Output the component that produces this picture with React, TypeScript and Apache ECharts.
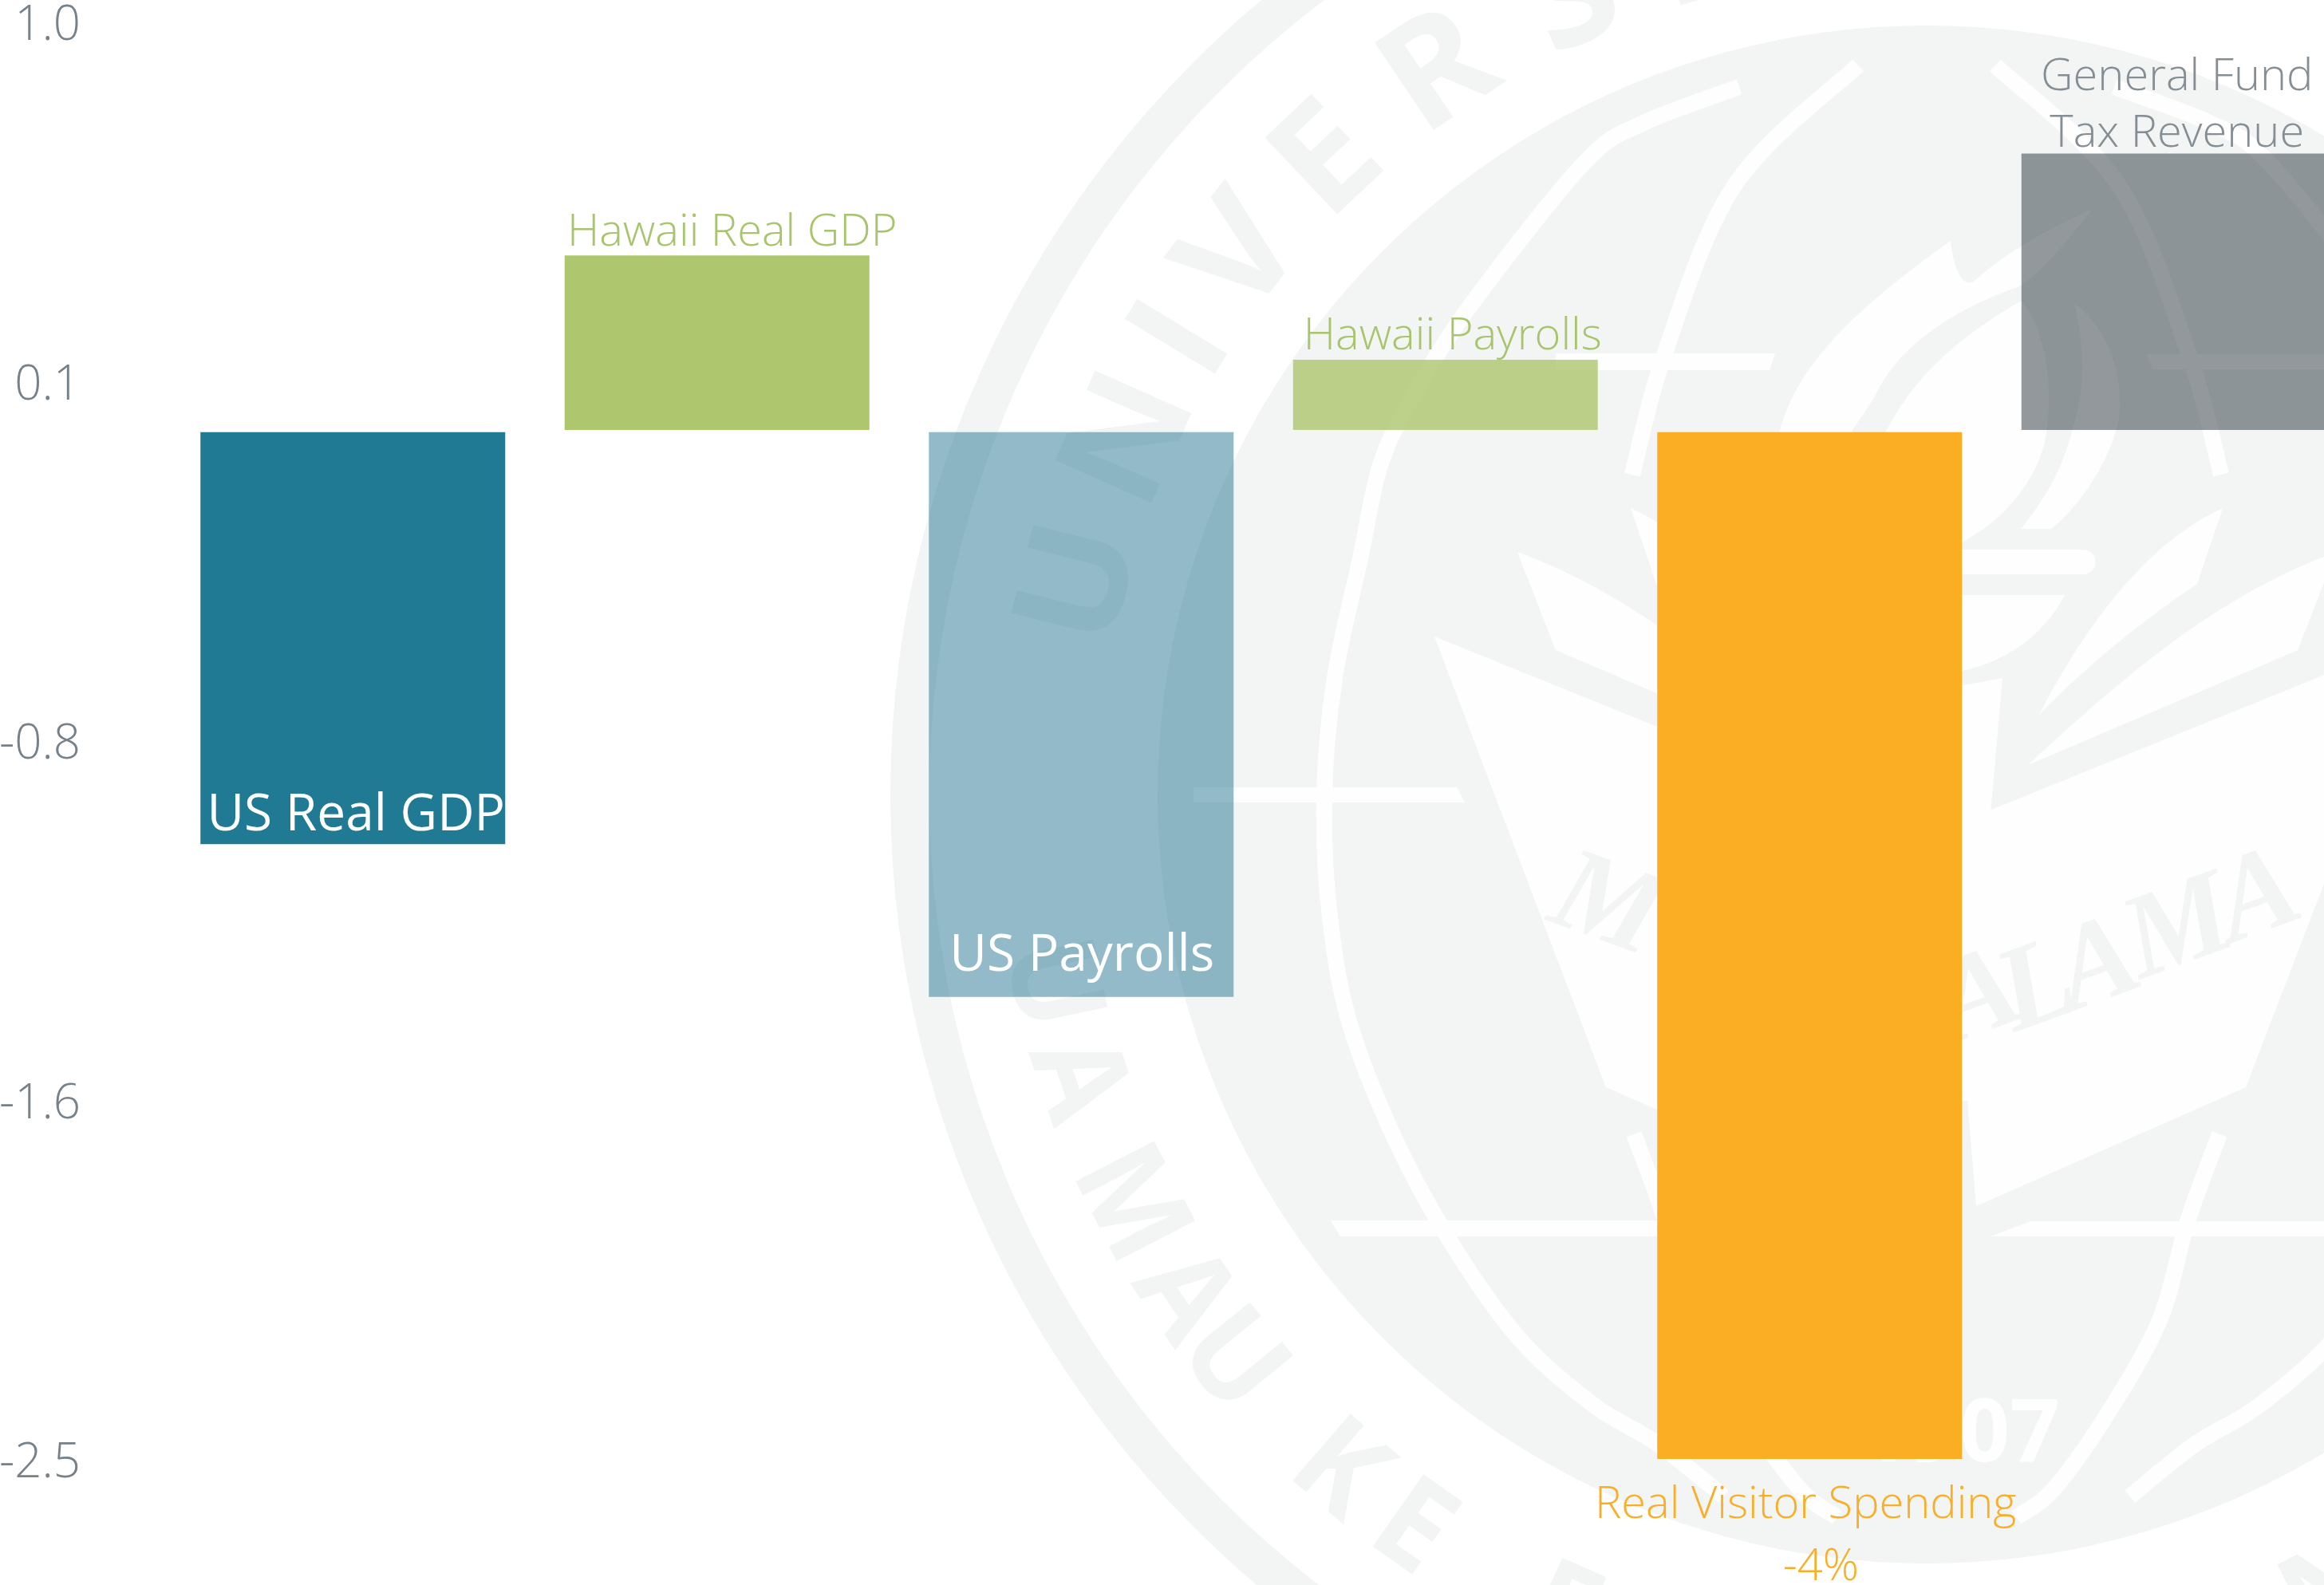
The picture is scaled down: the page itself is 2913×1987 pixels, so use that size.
import React, { useEffect, useRef } from "react";
import * as echarts from "echarts";

// ---- data ----
const categories = ["US Real GDP", "Hawaii Real GDP", "US Payrolls", "Hawaii Payrolls", "Real Visitor Spending", "General Fund Tax Revenue"];
const values = [-1.003, 0.425, -1.375, 0.171, -4, 0.673];
const tickValues = [-2.5, -1.625, -0.75, 0.125, 1];
const tickLabels = ["-2.5", "-1.6", "-0.8", "0.1", "1.0"];
const visitorNote = "-4%";

// ---- styles ----
const barStyles = [
  { color: "#217A94" },
  { color: "#AEC66E" },
  { color: "rgba(38,118,145,0.5)" },
  { color: "rgba(174,198,110,0.8)" },
  { color: "#FBAE23" },
  { color: "rgba(73,83,90,0.6)" },
];
const FONT = "'Open Sans'";
const labelStyles: any[] = [
  { position: "insideBottom", distance: 0, offset: [4, -4], color: "#fff", fontSize: 64, fontWeight: 400, lineHeight: 76, formatter: categories[0] },
  { position: "top", distance: 0, offset: [19, -1], color: "#A8C46C", fontSize: 56, fontWeight: 300, lineHeight: 66, formatter: categories[1] },
  { position: "insideBottom", distance: 0, offset: [1, -19], color: "#fff", fontSize: 64, fontWeight: 400, lineHeight: 76, formatter: categories[2] },
  { position: "top", distance: 0, offset: [9, -2], color: "#A8C46C", fontSize: 56, fontWeight: 300, lineHeight: 66, formatter: categories[3] },
  {
    position: "bottom", distance: 0, offset: [-5, 13], color: "#F9AE28", fontSize: 56, fontWeight: 300,
    formatter: `{a|${categories[4]}}\n{b|${visitorNote}}`,
    rich: {
      a: { fontFamily: FONT, fontSize: 56, fontWeight: 300, color: "#F9AE28", lineHeight: 78 },
      b: { fontFamily: FONT, fontSize: 56, fontWeight: 300, color: "#F9AE28", lineHeight: 78, padding: [0, 0, 0, 38] },
    },
  },
  { position: "top", distance: 0, offset: [4, 5], color: "#848E94", fontSize: 56, fontWeight: 300, lineHeight: 71, formatter: "General Fund\nTax Revenue" },
];

// ---- the faint university seal behind the chart ----
const CX = 2415, CY = 996;
const GREY = "#F3F5F4";
const WHITE = "#FEFEFE";
const topLetters: [string, number][] = [["U", -76], ["N", -66], ["I", -58.6], ["V", -51.8], ["E", -43.4], ["R", -34], ["S", -24], ["I", -16.5]];
const bottomLetters: [string, number][] = [["U", 77.8], ["A", 71.5], ["M", 62.8], ["A", 56], ["U", 50.8], ["K", 41], ["E", 35], ["E", 24], ["A", 16], ["N", -27]];

const leftOuter = [[2180, 109], [2058, 155], [1985, 205], [1846, 379], [1775, 490], [1731, 580], [1705, 700], [1673, 850], [1660, 996], [1667, 1150], [1697, 1300], [1778, 1487], [1890, 1661], [1993, 1758], [2078, 1810], [2160, 1876]];
const innerTop = [[2329, 82], [2175, 231], [2087, 442], [2046, 595]];
const innerBottom = [[2048, 1422], [2088, 1531], [2123, 1655], [2190, 1775], [2257, 1868], [2303, 1902]];
const mirror = (pts: number[][]) => pts.map(([x, y]) => [2 * CX - x, y]);

// a smooth open curve through the given points, as an SVG path
const curve = (p: number[][]) => {
  let d = `M${p[0][0]} ${p[0][1]}`;
  for (let i = 0; i < p.length - 1; i++) {
    const a = p[Math.max(i - 1, 0)], b = p[i], c = p[i + 1], e = p[Math.min(i + 2, p.length - 1)];
    d += ` C${b[0] + (c[0] - a[0]) / 6} ${b[1] + (c[1] - a[1]) / 6} ${c[0] - (e[0] - b[0]) / 6} ${c[1] - (e[1] - b[1]) / 6} ${c[0]} ${c[1]}`;
  }
  return d;
};

const SHAPES: Record<string, string> = {
  sealShield: "M1798 798 L2415 1048 L3032 798 L2815 1363 L2477 1512 L2466 1380 L2366 1380 L2353 1512 L2013 1363 Z",
  sealWings:
    "M2786 637 C2690 680 2610 790 2556 896 C2620 830 2690 775 2754 732 Z " +
    "M2928 692 C2770 750 2650 860 2542 959 L2880 815 Z " +
    "M2044 637 C2140 680 2220 790 2274 896 C2210 830 2140 775 2076 732 Z " +
    "M1902 692 C2060 750 2180 860 2288 959 L1950 815 Z",
  sealFlame:
    "M2445 302 C2350 370 2250 450 2230 545 L2318 545 L2349 499 C2375 440 2440 390 2534 358 C2570 330 2600 290 2623 262 C2560 290 2510 320 2475 352 C2465 360 2450 350 2445 302 Z " +
    "M2534 377 C2440 430 2385 490 2355 560 L2355 680 L2460 680 L2486 663 C2520 640 2560 590 2565 541 C2575 470 2560 410 2534 377 Z " +
    "M2600 380 C2617 450 2610 500 2597 541 C2585 590 2560 630 2533 663 L2571 663 C2600 640 2640 590 2655 530 C2665 470 2640 410 2600 380 Z",
  sealBowl:
    "M2204 689 L2610 689 C2632 689 2632 720 2610 720 L2204 720 Z " +
    "M2366 746 L2588 746 C2560 800 2510 830 2460 841 L2370 841 Z " +
    "M2400 870 L2510 850 L2495 1019 L2400 1050 Z",
  sealLatitudes:
    "M1950 443 L2225 443 L2218 464 L1950 464 Z " +
    "M2691 444 L2913 444 L2913 463 L2698 463 Z " +
    "M1496 987 L1826 987 L1836 1006 L1496 1006 Z " +
    "M1668 1530 L2330 1530 L2330 1550 L1680 1550 Z " +
    "M2545 1531 L2913 1531 L2913 1550 L2495 1550 Z",
};
Object.entries(SHAPES).forEach(([name, d]) => {
  (echarts.graphic as any).registerShape(name, (echarts.graphic as any).extendPath(d, {}));
});
const MERIDIANS = [leftOuter, mirror(leftOuter), innerTop, mirror(innerTop), innerBottom, mirror(innerBottom)].map(curve).join(" ");
(echarts.graphic as any).registerShape("sealMeridians", (echarts.graphic as any).extendPath(MERIDIANS, {}));

const rad = (d: number) => (d * Math.PI) / 180;
const letter = (text: string, x: number, y: number, rotation: number, fontSize: number, scaleX: number) => ({
  type: "text", x, y, rotation, scaleX, scaleY: 1, silent: true,
  style: { text, fontFamily: FONT, fontWeight: 700, fontSize, fill: GREY, align: "center", verticalAlign: "middle" },
});
const motto = (text: string, x: number, y: number, rotation: number) => ({
  type: "text", x, y, rotation, silent: true,
  style: { text, fontFamily: "'Liberation Serif'", fontStyle: "italic", fontWeight: 700, fontSize: 150, fill: GREY, align: "center", verticalAlign: "middle" },
});

const sealElements: any[] = [
  { type: "ring", silent: true, shape: { cx: CX, cy: CY, r: 1299, r0: 1250 }, style: { fill: GREY } },
  { type: "circle", silent: true, shape: { cx: CX, cy: CY, r: 964 }, style: { fill: GREY } },
  ...topLetters.map(([t, a]) => letter(t, CX + 1108 * Math.sin(rad(a)), CY - 1108 * Math.cos(rad(a)), rad(-a), 185, 1.05)),
  ...bottomLetters.map(([t, a]) => letter(t, CX - 1110 * Math.sin(rad(a)), CY + 1110 * Math.cos(rad(a)), rad(-a), 155, 0.95)),
  { type: "sealMeridians", silent: true, x: 0, y: 0, style: { stroke: WHITE, lineWidth: 20, fill: "none" } },
  ...Object.keys(SHAPES).map((name) => ({ type: name, silent: true, x: 0, y: 0, style: { fill: WHITE } })),
  motto("M", 2017, 1128, rad(-20)),
  ...[["A", 2477, 1243], ["L", 2550, 1231], ["A", 2626, 1203], ["M", 2728, 1157], ["A", 2827, 1117]].map(([t, x, y]) =>
    motto(t as string, x as number, y as number, rad(20))
  ),
  {
    type: "text", silent: true, x: 2582, y: 1789,
    style: { text: "1907", fontFamily: FONT, fontWeight: 700, fontSize: 110, fill: WHITE, align: "right", verticalAlign: "middle" },
  },
];

const toItem = (v: number, i: number) => ({
  value: v,
  itemStyle: barStyles[i],
  label: { show: true, fontFamily: FONT, ...labelStyles[i] },
});

export default function App() {
  const ref = useRef<HTMLDivElement>(null);
  useEffect(() => {
    const chart = echarts.init(ref.current!, undefined, { renderer: "svg" });
    chart.setOption({
      animation: false,
      backgroundColor: "#FFFFFF",
      graphic: { elements: sealElements },
      grid: { left: 214, right: -40, top: 27, bottom: 158, containLabel: false, outerBoundsMode: "none" },
      xAxis: {
        type: "category",
        data: categories,
        axisLine: { show: false },
        axisTick: { show: false },
        axisLabel: { show: false },
      },
      yAxis: [
        {
          type: "value",
          min: -2.5,
          max: 1,
          splitLine: { show: false },
          axisLine: { show: false },
          axisTick: { show: false },
          axisLabel: {
            customValues: tickValues,
            formatter: (v: number) => tickLabels[tickValues.indexOf(v)] ?? "",
            margin: 113,
            align: "right",
            verticalAlign: "middle",
            color: "#76818A",
            fontFamily: FONT,
            fontWeight: 300,
            fontSize: 60,
          },
        },
        {
          // same scale, lifted three pixels: positive bars sit just above the zero gap
          type: "value",
          min: -2.5049,
          max: 0.9942,
          show: false,
          splitLine: { show: false },
        },
      ],
      series: [
        {
          type: "bar",
          yAxisIndex: 0,
          barWidth: 382,
          barGap: "-100%",
          data: values.map((v, i) => (v < 0 ? toItem(v, i) : null)),
        },
        {
          type: "bar",
          yAxisIndex: 1,
          barWidth: 382,
          barGap: "-100%",
          data: values.map((v, i) => (v >= 0 ? toItem(v, i) : null)),
        },
      ],
    });
    return () => chart.dispose();
  }, []);
  return <div ref={ref} style={{ position: "absolute", left: 0, top: 0, width: 2913, height: 1987, overflow: "hidden" }} />;
}
